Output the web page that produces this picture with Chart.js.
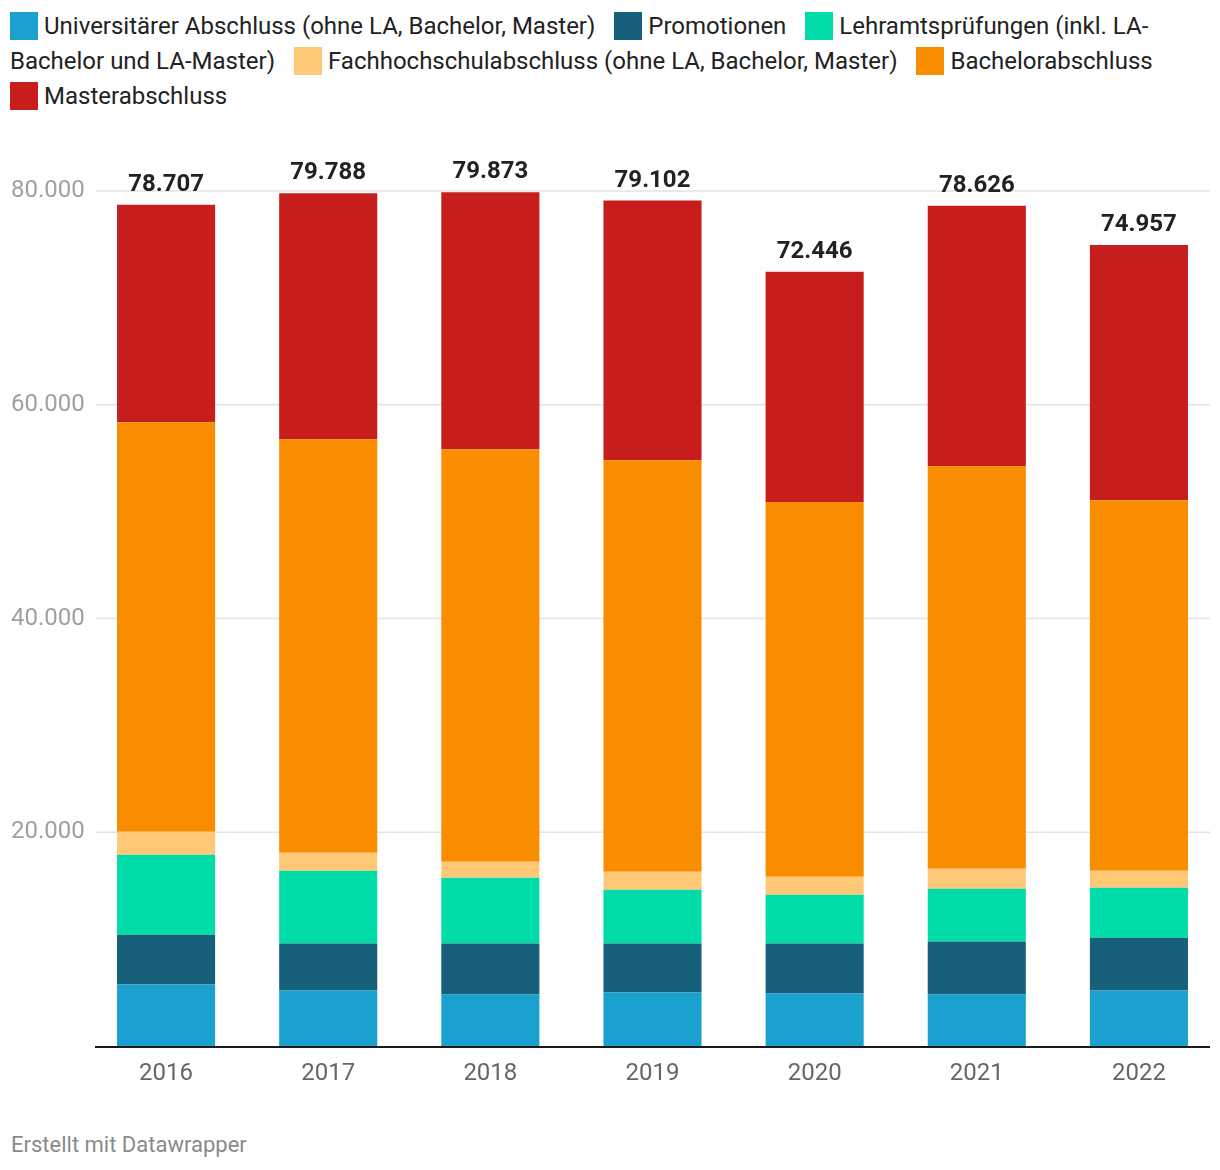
<!DOCTYPE html>
<html>
<head>
<meta charset="utf-8">
<script src="https://cdn.jsdelivr.net/npm/chart.js@4"></script>
<style>
    html, body { margin: 0; padding: 0; background: #fff; }
    body { width: 1220px; height: 1170px; position: relative; overflow: hidden; font-family: Roboto, sans-serif; }
    .legend { position: absolute; left: 10px; top: 9px; width: 1200px; font-size: 24px; line-height: 35px; color: #222; }
    .legend .item { margin-right: 13px; }
    .legend .head { white-space: nowrap; }
    .legend i { display: inline-block; width: 28px; height: 28px; vertical-align: -6px; margin-right: 6px; }
    .chart { position: absolute; left: 0; top: 130px; width: 1220px; height: 970px; }
    .credit { position: absolute; left: 11px; top: 1132px; font-size: 22px; color: #8a8a8a; }
</style>
</head>
<body>
<div class="legend"></div>
<div class="chart"><canvas id="c" width="1220" height="970"></canvas></div>
<div class="credit">Erstellt mit Datawrapper</div>
<script>
const years = ["2016", "2017", "2018", "2019", "2020", "2021", "2022"];
const seriesNames = [
    "Universitärer Abschluss (ohne LA, Bachelor, Master)",
    "Promotionen",
    "Lehramtsprüfungen (inkl. LA-Bachelor und LA-Master)",
    "Fachhochschulabschluss (ohne LA, Bachelor, Master)",
    "Bachelorabschluss",
    "Masterabschluss"
];
const colors = ["#1aa1cf", "#17607c", "#00dca8", "#fec877", "#fa8c00", "#c71e1d"];

const universitaer = [5750, 5190, 4810, 5000, 4910, 4810, 5190];
const promotionen = [4670, 4390, 4770, 4580, 4670, 4960, 4950];
const lehramt = [7480, 6820, 6170, 5050, 4580, 4950, 4670];
const fachhochschule = [2150, 1680, 1490, 1680, 1680, 1870, 1590];
const bachelor = [38310, 38700, 38600, 38500, 35050, 37660, 34670];
const master = [20347, 23008, 24033, 24292, 21556, 24376, 23887];

const yTicks = [0, 20000, 40000, 60000, 80000];

const allSeries = [universitaer, promotionen, lehramt, fachhochschule, bachelor, master];

function fmt(n) {
    return String(Math.round(n)).replace(/\B(?=(\d{3})+(?!\d))/g, ".");
}

// legend as html, so it wraps like the original
// square stays glued to the first word
const $legend = document.querySelector(".legend");
seriesNames.forEach((name, i) => {
    const span = document.createElement("span");
    span.className = "item";
    const sp = name.indexOf(" ");
    const first = sp < 0 ? name : name.slice(0, sp);
    const rest = sp < 0 ? "" : name.slice(sp);
    span.innerHTML = '<span class="head"><i style="background:' + colors[i] + '"></i>' + first + '</span>' + rest;
    $legend.appendChild(span);
    $legend.appendChild(document.createTextNode(" "));
});

const gridPlugin = {
    id: "grid",
    beforeDatasetsDraw(chart) {
        const ctx = chart.ctx;
        const y = chart.scales.y;
        ctx.save();
        ctx.strokeStyle = "#e3e3e3";
        ctx.lineWidth = 1.5;
        yTicks.forEach(v => {
            if (v === 0) return;
            const py = y.getPixelForValue(v);
            ctx.beginPath();
            ctx.moveTo(96, py);
            ctx.lineTo(1210, py);
            ctx.stroke();
        });
        ctx.restore();
    },
    afterDatasetsDraw(chart) {
        const ctx = chart.ctx;
        const y = chart.scales.y;
        const py = y.getPixelForValue(0);
        ctx.save();
        ctx.strokeStyle = "#1a1a1a";
        ctx.lineWidth = 2;
        ctx.beginPath();
        ctx.moveTo(95, py + 1);
        ctx.lineTo(1210, py + 1);
        ctx.stroke();

        // totals above the bars
        const meta = chart.getDatasetMeta(allSeries.length - 1);
        ctx.fillStyle = "#222";
        ctx.font = "bold 24px Roboto";
        ctx.textAlign = "center";
        ctx.textBaseline = "alphabetic";
        years.forEach((yr, i) => {
            let total = 0;
            allSeries.forEach(s => total += s[i]);
            ctx.fillText(fmt(total), meta.data[i].x, y.getPixelForValue(total) - 14);
        });
        ctx.restore();
    }
};

new Chart(document.getElementById("c"), {
    type: "bar",
    data: {
        labels: years,
        datasets: allSeries.map((s, i) => ({
            label: seriesNames[i],
            data: s,
            backgroundColor: colors[i],
            borderWidth: 0,
            barPercentage: 0.605,
            categoryPercentage: 1
        }))
    },
    options: {
        responsive: false,
        animation: false,
        layout: { padding: { left: 11, top: 61, right: 0, bottom: 0 } },
        plugins: {
            legend: { display: false },
            tooltip: { enabled: false }
        },
        scales: {
            x: {
                stacked: true,
                grid: { display: false, drawTicks: false },
                border: { display: false },
                ticks: { color: "#666", font: { family: "Roboto", size: 24 }, padding: 14 },
                afterFit: s => { s.height = 54; }
            },
            y: {
                stacked: true,
                min: 0,
                max: 80000,
                grid: { display: false, drawTicks: false },
                border: { display: false },
                afterBuildTicks: s => { s.ticks = yTicks.map(v => ({ value: v })); },
                afterFit: s => { s.width = 74; },
                ticks: {
                    color: "#a0a0a0",
                    font: { family: "Roboto", size: 24 },
                    crossAlign: "far",
                    callback: v => v === 0 ? "" : fmt(v)
                }
            }
        }
    },
    plugins: [gridPlugin]
});
</script>
</body>
</html>
